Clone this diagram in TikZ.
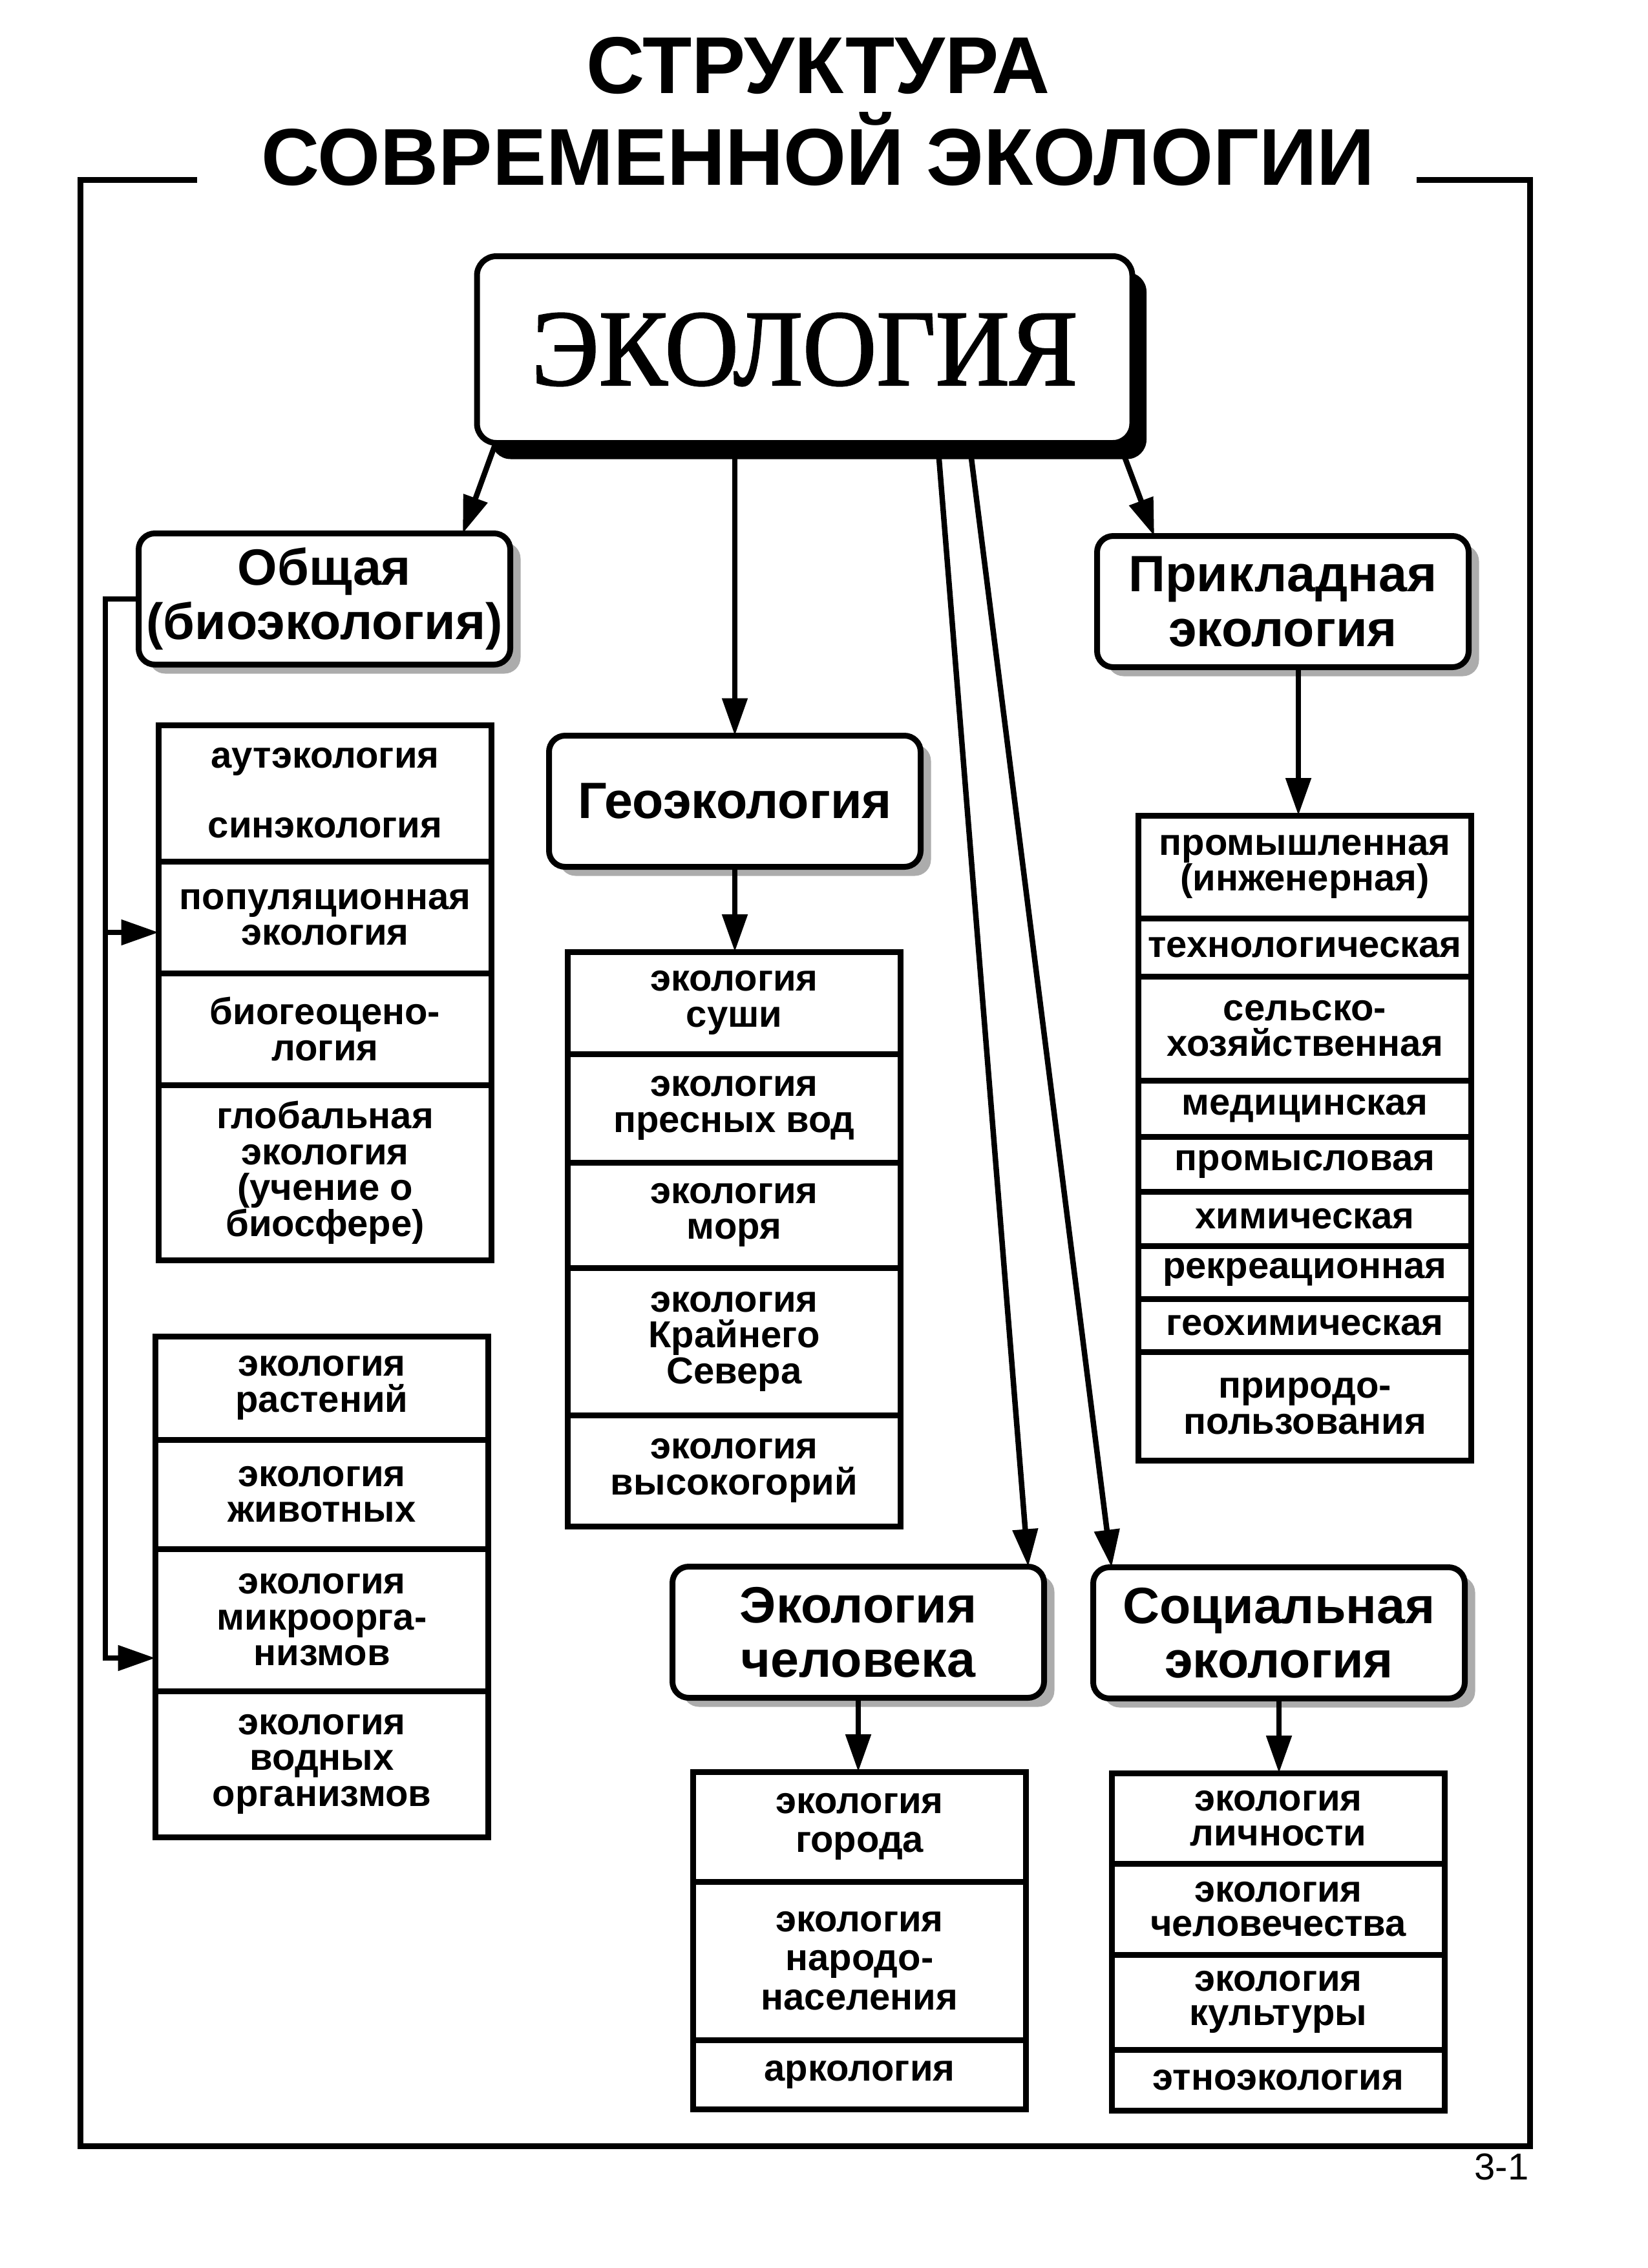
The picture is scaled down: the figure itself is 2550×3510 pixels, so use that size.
\documentclass[tikz,border=0pt]{standalone}
\usepackage{fontspec}
\setmainfont{Liberation Sans}
\newfontfamily\rootfont[FakeBold=1.6]{Liberation Serif}
\usetikzlibrary{arrows.meta,shadows,calc}

\begin{document}
\begin{tikzpicture}[x=0.1mm,y=-0.1mm]
\tikzset{
    frame line/.style={line width=0.9mm},
    root/.style={draw, line width=0.9mm, rounded corners=3mm, fill=white, minimum width=101.4mm, minimum height=28.9mm, inner sep=0pt, outer sep=0pt, drop shadow={shadow xshift=2.2mm, shadow yshift=-2.5mm, fill=black, opacity=1}},
    head/.style={draw, line width=0.9mm, rounded corners=2.5mm, fill=white, minimum width=57.5mm, minimum height=20.3mm, inner sep=0pt, outer sep=0pt, align=center, font=\bfseries\fontsize{22.5}{24}\selectfont, drop shadow={shadow xshift=1.6mm, shadow yshift=-1.4mm, fill=gray!65, opacity=1}},
    item/.style={draw, line width=0.9mm, fill=white, minimum width=51.5mm, inner sep=0pt, outer sep=0pt, anchor=north, align=center, font=\bfseries\fontsize{16.5}{15.8}\selectfont},
    title/.style={anchor=base, inner sep=0pt, font=\bfseries\fontsize{35.5}{36}\selectfont},
    link/.style={line width=0.85mm, -{Triangle[length=5.8mm,width=3.8mm]}}}

\useasboundingbox (0,0) rectangle (2550,3510);

\node[title] (T1) at (1266,145) {СТРУКТУРА};
\node[title] (T2) at (1266,287) {СОВРЕМЕННОЙ ЭКОЛОГИИ};
\draw[frame line] (305,278) -- (124,278) -- (124,3321) -- (2367,3321) -- (2367,278) -- (2192,278);
\node[anchor=base east, inner sep=0pt, font=\fontsize{16.5}{16.5}\selectfont] (NUM) at (2366,3373) {3-1};

\node[root] (ECO) at (1245,541) {\rootfont\fontsize{45}{46}\selectfont\scalebox{1}[1.06]{ЭКОЛОГИЯ}};

\node[head] (OBS) at (502,927) {Общая\\(биоэкология)};
\node[head] (PRK) at (1985,931) {Прикладная\\экология};
\node[head] (GEO) at (1137,1240) {Геоэкология};
\node[head] (HUM) at (1328,2526) {Экология\\человека};
\node[head] (SOC) at (1979,2527) {Социальная\\экология};

\node[item, minimum height=21.1mm] (A1) at (503,1122) {аутэкология\\[15pt]синэкология};
\node[item, minimum height=17.3mm] (A2) at (503,1333) {популяционная\\экология};
\node[item, minimum height=17.3mm] (A3) at (503,1506) {биогеоцено-\\логия};
\node[item, minimum height=27.1mm] (A4) at (503,1679) {глобальная\\экология\\(учение о\\биосфере)};

\node[item, minimum height=16.0mm] (B1) at (498,2068) {экология\\растений};
\node[item, minimum height=16.9mm] (B2) at (498,2228) {экология\\животных};
\node[item, minimum height=22.0mm] (B3) at (498,2397) {экология\\микроорга-\\низмов};
\node[item, minimum height=22.6mm] (B4) at (498,2617) {экология\\водных\\организмов};

\node[item, minimum height=15.8mm] (G1) at (1136,1473) {экология\\суши};
\node[item, minimum height=16.8mm] (G2) at (1136,1631) {экология\\пресных вод};
\node[item, minimum height=16.3mm] (G3) at (1136,1799) {экология\\моря};
\node[item, minimum height=22.8mm] (G4) at (1136,1962) {экология\\Крайнего\\Севера};
\node[item, minimum height=17.2mm] (G5) at (1136,2190) {экология\\высокогорий};

\node[item, minimum height=15.9mm] (P1) at (2019,1262) {промышленная\\(инженерная)};
\node[item, minimum height=9.0mm] (P2) at (2019,1421) {технологическая};
\node[item, minimum height=16.1mm] (P3) at (2019,1511) {сельско-\\хозяйственная};
\node[item, minimum height=8.7mm] (P4) at (2019,1672) {медицинская};
\node[item, minimum height=8.5mm] (P5) at (2019,1759) {промысловая};
\node[item, minimum height=8.4mm] (P6) at (2019,1844) {химическая};
\node[item, minimum height=8.2mm] (P7) at (2019,1928) {рекреационная};
\node[item, minimum height=8.2mm] (P8) at (2019,2010) {геохимическая};
\node[item, minimum height=16.8mm] (P9) at (2019,2092) {природо-\\пользования};

\node[item, minimum height=17.0mm, font=\bfseries\fontsize{16.5}{17.2}\selectfont] (H1) at (1330,2742) {экология\\города};
\node[item, minimum height=24.5mm, font=\bfseries\fontsize{16.5}{17.2}\selectfont] (H2) at (1330,2912) {экология\\народо-\\населения};
\node[item, minimum height=10.7mm] (H3) at (1330,3157) {аркология};

\node[item, minimum height=14.0mm, font=\bfseries\fontsize{16.5}{15.2}\selectfont] (S1) at (1978,2744) {экология\\личности};
\node[item, minimum height=14.1mm, font=\bfseries\fontsize{16.5}{15.2}\selectfont] (S2) at (1978,2884) {экология\\человечества};
\node[item, minimum height=14.7mm, font=\bfseries\fontsize{16.5}{15.2}\selectfont] (S3) at (1978,3025) {экология\\культуры};
\node[item, minimum height=9.4mm] (S4) at (1978,3172) {этноэкология};

\draw[link] ($(ECO.south)+(-478,0)$) -- ($(OBS.north)+(214,0)$);
\draw[link] (ECO.south -| GEO.north) -- (GEO.north);
\draw[link] ($(ECO.south)+(206,0)$) -- ($(HUM.north)+(263,0)$);
\draw[link] ($(ECO.south)+(255,0)$) -- ($(SOC.north)+(-259,0)$);
\draw[link] ($(ECO.south)+(487,0)$) -- ($(PRK.north)+(-199,0)$);

\draw[link] (GEO.south) -- (GEO.south |- G1.north);
\draw[link] ($(PRK.south)+(24,0)$) coordinate (PA) -- (PA |- P1.north);
\draw[link] (HUM.south) -- (HUM.south |- H1.north);
\draw[link] (SOC.south) -- (SOC.south |- S1.north);

\path (163,1443) coordinate (BU) (163,2566) coordinate (BL);
\draw[link] (OBS.west) -| (BL) -- (BL -| B3.west);
\draw[link] (BU) -- (BU -| A2.west);

\end{tikzpicture}
\end{document}
